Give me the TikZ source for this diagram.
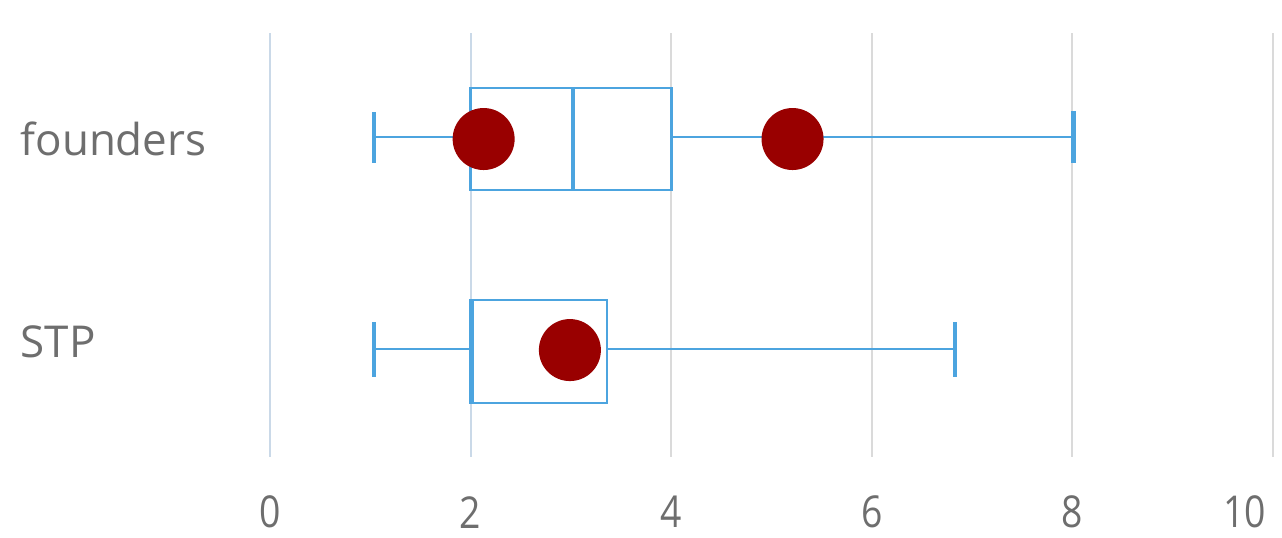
\documentclass[tikz,border=0pt]{standalone}
\usepackage{fontspec}
\setmainfont{Open Sans}
\definecolor{boxblue}{HTML}{4CA4DF}
\definecolor{dotred}{HTML}{990000}
\definecolor{gridgrey}{HTML}{DADADA}
\definecolor{gridblue}{HTML}{CAD9E8}
\definecolor{labelgrey}{HTML}{6E6E6E}
\begin{document}
\begin{tikzpicture}[x=2.006cm,y=-0.02cm]
    \tikzset{
        gridline/.style={draw=gridgrey,line width=1.1pt},
        boxline/.style={draw=boxblue,line width=1.6pt},
        capline/.style={draw=boxblue,line width=2.4pt},
        dot/.style={circle,fill=dotred,inner sep=0pt,minimum size=1.24cm},
        catlabel/.style={anchor=west,text=labelgrey,font=\fontsize{25}{30}\selectfont,inner sep=0pt},
        ticklabel/.style={text=labelgrey,font=\fontsize{25}{28}\selectfont,inner sep=0pt,xscale=0.85}
    }
    \useasboundingbox (-2.692,0) rectangle (10.09,537);
    % grid
    \foreach \v in {4,6,8,10}
        \draw[gridline] (\v,33) -- (\v,457);
    \foreach \v in {0,2}
        \draw[gridline,draw=gridblue] (\v,33) -- (\v,457);
    % axis labels
    \foreach \v in {0,2,4,6,8}
        \node[ticklabel] (tick\v) at (\v,512) {\v};
    \node[ticklabel] (tick10) at (9.72,512) {10};
    \node[catlabel] (founders) at (-2.49,139) {founders};
    \node[catlabel] (stp) at (-2.49,342) {STP};

    % founders
    \coordinate (f_min) at (1.04,137);
    \coordinate (f_q1) at (2,137);
    \coordinate (f_q3) at (4,137);
    \coordinate (f_max) at (8.01,137);
    \draw[boxline] (f_min) -- (f_q1) (f_q3) -- (f_max);
    \draw[capline] (1.04,112) -- (1.04,163);
    \draw[capline] (8.01,111) -- (8.01,163);
    \draw[boxline,fill=white] (2,88) rectangle (4,190);
    \draw[capline] (3.02,88) -- (3.02,190);

    % STP
    \coordinate (s_min) at (1.04,349);
    \coordinate (s_q1) at (2,349);
    \coordinate (s_q3) at (3.36,349);
    \coordinate (s_max) at (6.83,349);
    \draw[boxline] (s_min) -- (s_q1) (s_q3) -- (s_max);
    \draw[capline] (1.04,322) -- (1.04,377);
    \draw[capline] (6.83,322) -- (6.83,377);
    \draw[boxline,fill=white] (2,300) rectangle (3.36,403);
    \draw[capline] (2.01,300) -- (2.01,403);

    % points
    \node[dot] (f_a) at (2.13,139) {};
    \node[dot] (f_b) at (5.21,139) {};
    \node[dot] (s_a) at (2.99,350) {};
\end{tikzpicture}
\end{document}
